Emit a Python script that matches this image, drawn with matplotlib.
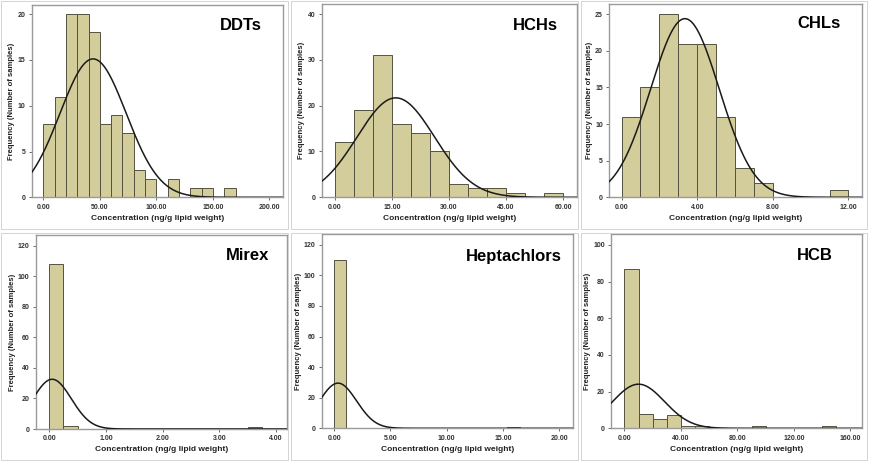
import numpy as np
import matplotlib.pyplot as plt

plt.rcParams['font.family'] = ['Liberation Sans', 'DejaVu Sans']

W, H = 869, 461

# histogram data (bin start, bin width, counts)
ddt_start, ddt_width = 0.0, 10.0
ddt_counts = [8, 11, 20, 20, 18, 8, 9, 7, 3, 2, 0, 2, 0, 1, 1, 0, 1]
ddt_mean, ddt_sd = 44.0, 29.3

hch_start, hch_width = 0.0, 5.0
hch_counts = [12, 19, 31, 16, 14, 10, 3, 2, 2, 1, 0, 1]
hch_mean, hch_sd = 16.0, 10.2

chl_start, chl_width = 0.0, 1.0
chl_counts = [11, 15, 25, 21, 21, 11, 4, 2, 0, 0, 0, 1]
chl_mean, chl_sd = 3.35, 1.815

mirex_start, mirex_width = 0.0, 0.25
mirex_counts = [108, 2, 0, 0, 0, 0, 0, 0, 0, 0, 0, 0, 0, 0, 1]
mirex_mean, mirex_sd = 0.05, 0.34

hep_start, hep_width = 0.0, 1.1
hep_counts = [110, 0, 0, 0, 0, 0, 0, 0, 0, 0, 0, 0, 0, 0, 1]
hep_mean, hep_sd = 0.35, 1.65

hcb_start, hcb_width = 0.0, 10.0
hcb_counts = [87, 8, 5, 7, 1, 1, 0, 0, 0, 1, 0, 0, 0, 0, 1]
hcb_mean, hcb_sd = 10.0, 18.4

names = ['DDTs', 'HCHs', 'CHLs', 'Mirex', 'Heptachlors', 'HCB']

# per panel layout: axes box in pixels (left, top, right, bottom), limits, ticks
panels = [
    dict(data=(ddt_start, ddt_width, ddt_counts, ddt_mean, ddt_sd),
         box=(31.7, 5, 283, 197.3), xlim=(-10.3, 212), ylim=(0, 21),
         xticks=[0, 50, 100, 150, 200], yticks=[0, 5, 10, 15, 20], title_xy=(241, 25)),
    dict(data=(hch_start, hch_width, hch_counts, hch_mean, hch_sd),
         box=(321.7, 4, 576.7, 197.3), xlim=(-3.5, 63.6), ylim=(0, 42.2),
         xticks=[0, 15, 30, 45, 60], yticks=[0, 10, 20, 30, 40], title_xy=(535, 25)),
    dict(data=(chl_start, chl_width, chl_counts, chl_mean, chl_sd),
         box=(609.3, 4, 861.7, 197.3), xlim=(-0.65, 12.7), ylim=(0, 26.4),
         xticks=[0, 4, 8, 12], yticks=[0, 5, 10, 15, 20, 25], title_xy=(819, 24)),
    dict(data=(mirex_start, mirex_width, mirex_counts, mirex_mean, mirex_sd),
         box=(35.7, 235, 286.7, 429), xlim=(-0.24, 4.19), ylim=(0, 127),
         xticks=[0, 1, 2, 3, 4], yticks=[0, 20, 40, 60, 80, 100, 120], title_xy=(248, 256)),
    dict(data=(hep_start, hep_width, hep_counts, hep_mean, hep_sd),
         box=(321.7, 234, 572.7, 428.3), xlim=(-1.1, 21.2), ylim=(0, 127),
         xticks=[0, 5, 10, 15, 20], yticks=[0, 20, 40, 60, 80, 100, 120], title_xy=(514, 256)),
    dict(data=(hcb_start, hcb_width, hcb_counts, hcb_mean, hcb_sd),
         box=(611, 234, 861.7, 428.3), xlim=(-9.5, 168), ylim=(0, 106),
         xticks=[0, 40, 80, 120, 160], yticks=[0, 20, 40, 60, 80, 100], title_xy=(815, 256)),
]

bar_color = '#d2cd9a'
edge_color = '#55533f'
frame_color = '#9a9a9a'

fig = plt.figure(figsize=(W / 100, H / 100), dpi=100)
fig.patch.set_facecolor('white')

# light grey frames around each chart
for fx, fy, fw, fh in [(1, 1, 287, 228), (291, 1, 287, 228), (581, 1, 286, 228),
                       (1, 233, 287, 227), (291, 233, 287, 227), (581, 233, 286, 227)]:
    fig.add_artist(plt.Rectangle((fx / W, 1 - (fy + fh) / H), fw / W, fh / H,
                                 transform=fig.transFigure, fill=False,
                                 edgecolor='#d4d4d4', linewidth=0.7))

for name, p in zip(names, panels):
    l, t, r, b = p['box']
    ax = fig.add_axes([l / W, 1 - b / H, (r - l) / W, (b - t) / H])
    start, bw, counts, mu, sd = p['data']
    counts = np.array(counts)
    lefts = start + bw * np.arange(len(counts))
    ax.bar(lefts[counts > 0], counts[counts > 0], width=bw, align='edge',
           color=bar_color, edgecolor=edge_color, linewidth=0.7, zorder=2)

    # fitted normal curve
    x = np.linspace(p['xlim'][0], p['xlim'][1], 400)
    n = counts.sum()
    y = n * bw / (sd * np.sqrt(2 * np.pi)) * np.exp(-0.5 * ((x - mu) / sd) ** 2)
    ax.plot(x, y, color='#1a1a1a', linewidth=1.1, zorder=3)

    ax.set_xlim(*p['xlim'])
    ax.set_ylim(*p['ylim'])
    ax.set_xticks(p['xticks'])
    ax.set_xticklabels([f'{v:.2f}' for v in p['xticks']])
    ax.set_yticks(p['yticks'])
    ax.tick_params(axis='both', labelsize=5, length=2.5, width=0.6,
                   color='#555555', pad=2)
    for lab in ax.get_xticklabels() + ax.get_yticklabels():
        lab.set_fontweight('bold')
        lab.set_color('#333333')
    for s in ax.spines.values():
        s.set_color(frame_color)
        s.set_linewidth(1.0)
    ax.set_xlabel('Concentration (ng/g lipid weight)', fontsize=6, fontweight='bold',
                  color='#222222', labelpad=3)
    ax.set_ylabel('Frequency (Number of samples)', fontsize=5.5, fontweight='bold',
                  color='#222222', labelpad=1.5)

    tx, ty = p['title_xy']
    fig.text(tx / W, 1 - ty / H, name, fontsize=12, fontweight='bold',
             ha='center', va='center', color='black')

fig.savefig('out.png', dpi=100)
